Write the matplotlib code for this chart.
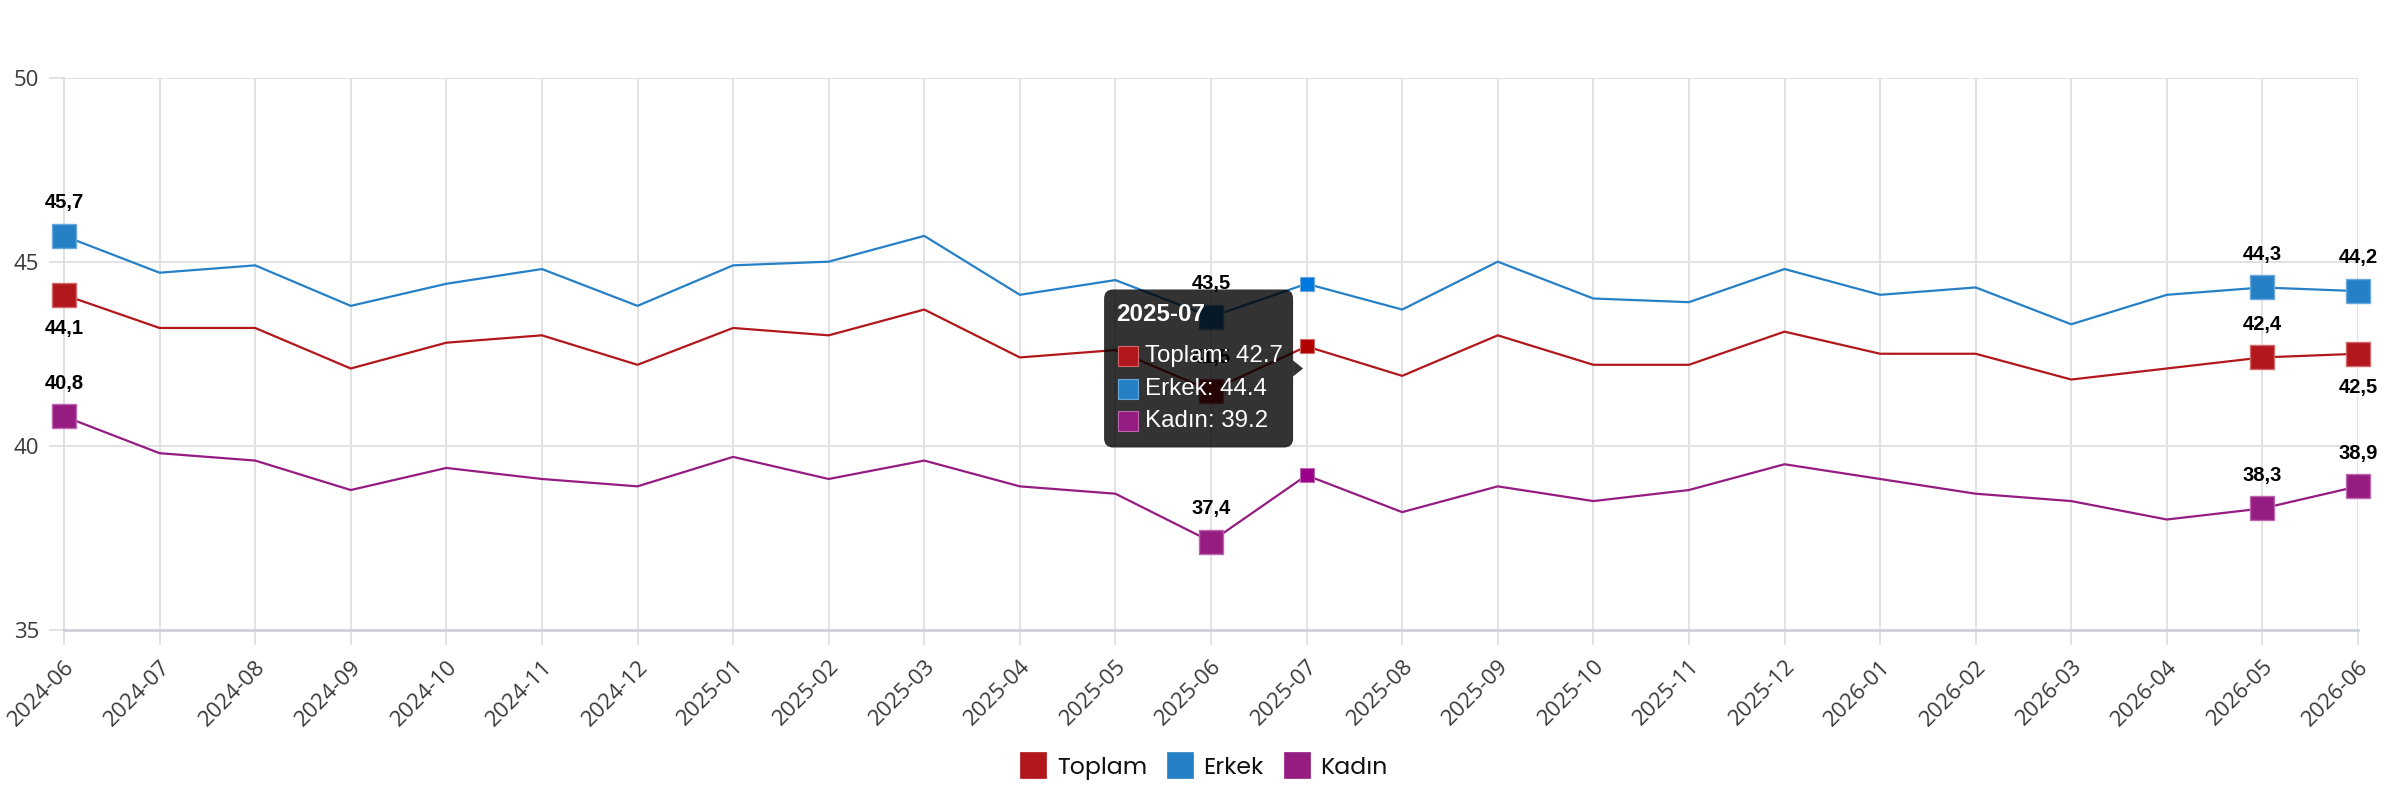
import matplotlib
matplotlib.use('Agg')
import matplotlib.pyplot as plt
from matplotlib import font_manager as fm
from matplotlib.lines import Line2D
from matplotlib.patches import FancyBboxPatch, Polygon, Rectangle
from matplotlib.transforms import IdentityTransform

# ---------------- data ----------------
months = ['2024-06', '2024-07', '2024-08', '2024-09', '2024-10', '2024-11', '2024-12',
          '2025-01', '2025-02', '2025-03', '2025-04', '2025-05', '2025-06', '2025-07',
          '2025-08', '2025-09', '2025-10', '2025-11', '2025-12', '2026-01', '2026-02',
          '2026-03', '2026-04', '2026-05', '2026-06']
toplam = [44.1, 43.2, 43.2, 42.1, 42.8, 43.0, 42.2, 43.2, 43.0, 43.7, 42.4, 42.6, 41.5,
          42.7, 41.9, 43.0, 42.2, 42.2, 43.1, 42.5, 42.5, 41.8, 42.1, 42.4, 42.5]
erkek = [45.7, 44.7, 44.9, 43.8, 44.4, 44.8, 43.8, 44.9, 45.0, 45.7, 44.1, 44.5, 43.5,
         44.4, 43.7, 45.0, 44.0, 43.9, 44.8, 44.1, 44.3, 43.3, 44.1, 44.3, 44.2]
kadin = [40.8, 39.8, 39.6, 38.8, 39.4, 39.1, 38.9, 39.7, 39.1, 39.6, 38.9, 38.7, 37.4,
         39.2, 38.2, 38.9, 38.5, 38.8, 39.5, 39.1, 38.7, 38.5, 38.0, 38.3, 38.9]
series_names = ['Toplam', 'Erkek', 'Kadın']
y_ticks = [35, 40, 45, 50]
labeled_idx = [0, 12, 23, 24]
hover_idx = 13

# ---------------- style ----------------
line_colors = ['#b2171b', '#2680c6', '#951c80']
edge_colors = ['#d0676a', '#6aa8dc', '#bb66ad']
hover_colors = ['#b00000', '#0077dd', '#990088']
# label side per series for the labelled points (+1 above, -1 below)
label_side = [[-1, 1, 1, -1], [1, 1, 1, 1], [1, 1, 1, 1]]

installed = {f.name for f in fm.fontManager.ttflist}
def pick(*names):
    for n in names:
        if n in installed:
            return n
    return 'DejaVu Sans'

tick_font = pick('Open Sans', 'Liberation Sans', 'DejaVu Sans')
label_font = pick('Liberation Sans', 'Arial', 'DejaVu Sans')
legend_font = pick('Poppins', 'Inter', 'Lato', 'DejaVu Sans')

W, H = 2384, 800
fig = plt.figure(figsize=(W / 100, H / 100), dpi=100)
ax_left, ax_right, ax_top, ax_bot = 64, 2358, 77.5, 630
ax = fig.add_axes([ax_left / W, 1 - ax_bot / H, (ax_right - ax_left) / W, (ax_bot - ax_top) / H])

x = list(range(len(months)))
all_series = [toplam, erkek, kadin]

for s, vals in enumerate(all_series):
    ax.plot(x, vals, color=line_colors[s], lw=1.6, zorder=2, clip_on=False)
    ax.plot([x[i] for i in labeled_idx], [vals[i] for i in labeled_idx], 's', ms=17.3,
            mfc=line_colors[s], mec=edge_colors[s], mew=1.0, zorder=3, clip_on=False)
    ax.plot([hover_idx], [vals[hover_idx]], 's', ms=9.4, mfc=hover_colors[s],
            mec=edge_colors[s], mew=0.8, zorder=3, clip_on=False)
    for k, i in enumerate(labeled_idx):
        ax.annotate(f"{vals[i]:.1f}".replace('.', ','), (x[i], vals[i]),
                    xytext=(0, 24 * label_side[s][k]), textcoords='offset points',
                    ha='center', va='center', fontsize=14.5, fontweight='bold',
                    family=label_font, color='black', zorder=5, annotation_clip=False)

ax.set_xlim(0, len(months) - 1)
ax.set_ylim(y_ticks[0], y_ticks[-1])
ax.set_yticks(y_ticks)
ax.set_xticks(x)
ax.set_xticklabels(months, rotation=45, ha='right', rotation_mode='anchor')
grid_c = '#e2e2e4'
ax.grid(True, color=grid_c, lw=1.4)
ax.set_axisbelow(True)
for sp in ['top', 'right']:
    ax.spines[sp].set_visible(False)
ax.spines['left'].set_color('#dcdfe4')
ax.spines['left'].set_linewidth(1.4)
ax.spines['bottom'].set_color('#cdd1d6')
ax.spines['bottom'].set_linewidth(2)
ax.tick_params(axis='both', length=10.8, width=1.4, color=grid_c, labelcolor='#3a3a3a',
               labelsize=16)
ax.tick_params(axis='y', pad=7)
ax.tick_params(axis='x', pad=8)
for lab in ax.get_xticklabels() + ax.get_yticklabels():
    lab.set_family(tick_font)

# ---------------- tooltip ----------------
ident = IdentityTransform()
mean_val = sum(v[hover_idx] for v in all_series) / len(all_series)
xp, yp = ax.transData.transform((hover_idx, mean_val))
box_w, box_h, caret_w, caret_h = 189, 158, 10, 8
bx1 = xp - 3.5 - caret_w
bx0 = bx1 - box_w
by0 = yp - box_h / 2
btop = by0 + box_h
tip_bg = (0, 0, 0, 0.8)
fig.add_artist(FancyBboxPatch((bx0, by0), box_w, box_h,
                              boxstyle='round,pad=0,rounding_size=9',
                              fc=tip_bg, ec='none', transform=ident, zorder=10))
fig.add_artist(Polygon([(bx1, yp - caret_h), (bx1 + caret_w, yp), (bx1, yp + caret_h)],
                       closed=True, fc=tip_bg, ec='none', transform=ident, zorder=10))
fig.text(bx0 + 12.5, btop - 25, months[hover_idx], transform=ident, color='white',
         fontsize=17.4, fontweight='bold', family=label_font, ha='left', va='center',
         zorder=11)
for s, name in enumerate(series_names):
    cy = btop - 67 - 32.5 * s
    fig.add_artist(Rectangle((bx0 + 14, cy - 10), 20, 20, fc=line_colors[s],
                             ec=edge_colors[s], lw=0.8, transform=ident, zorder=11))
    fig.text(bx0 + 41, cy, f"{name}: {all_series[s][hover_idx]:.1f}", transform=ident,
             color='white', fontsize=17.4, family=label_font, ha='left', va='center',
             zorder=11)

# ---------------- legend ----------------
handles = [Line2D([], [], ls='none', marker='s', ms=18.7, mfc=c, mec=c, mew=0.5)
           for c in line_colors]
fig.legend(handles, series_names, loc='center', bbox_to_anchor=(0.5 + 12 / W, 32 / H), ncol=3,
           frameon=False, handlelength=1.1, handletextpad=0.45, columnspacing=0.85,
           prop={'family': legend_font, 'size': 17}, labelcolor='#111111')

fig.savefig('out.png', dpi=100)
